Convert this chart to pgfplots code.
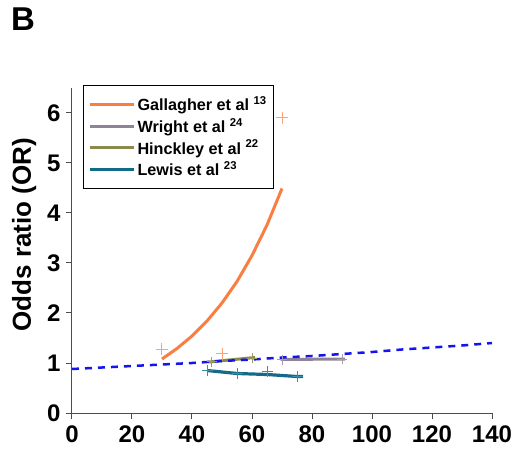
\documentclass[border=0pt]{standalone}
\usepackage{fontspec}
\setmainfont{Liberation Sans}
\usepackage{pgfplots}
\pgfplotsset{compat=1.18}
\definecolor{gal}{HTML}{F97E42}
\definecolor{galm}{HTML}{FBA27A}
\definecolor{wri}{HTML}{8F8497}
\definecolor{wrim}{HTML}{A79DAE}
\definecolor{hin}{HTML}{8A8A4E}
\definecolor{hinm}{HTML}{9A9A62}
\definecolor{lew}{HTML}{146A8A}
\definecolor{lewm}{HTML}{3A8FA8}
\definecolor{bdash}{HTML}{1414F0}
\begin{document}
\begin{tikzpicture}
\begin{axis}[
  scale only axis, width=420pt, height=325pt,
  xmin=0, xmax=140, ymin=0, ymax=6.5,
  axis x line*=bottom, axis y line*=left,
  axis line style={-, line width=1pt, color=black!70},
  xtick={0,20,...,140}, ytick={0,1,...,6},
  tick align=outside, major tick length=6pt,
  tick style={line width=1pt, color=black!70},
  /pgf/number format/assume math mode=true,
  tick label style={font=\fontsize{24}{24}\selectfont\bfseries},
  xticklabel style={yshift=-3pt},
  yticklabel style={xshift=-2pt},
  ylabel={Odds ratio (OR)},
  ylabel style={font=\fontsize{26}{26}\selectfont\bfseries, at={(axis description cs:-0.114,0.549)}, anchor=center},
  clip=false,
  legend style={at={(axis description cs:0.026,1.009)}, anchor=north west, draw=black, line width=0.8pt,
    font=\fontsize{16.2}{19}\selectfont\bfseries, inner xsep=5pt, inner ysep=9pt,
    row sep=2pt, cells={anchor=west}},
  legend image code/.code={\path (0pt,0pt) -- (44pt,0pt); \draw[#1] (8pt,0pt) -- (36pt,0pt);},
]
\addplot[gal, line width=3pt, mark=none] coordinates {(30,1.08) (35,1.29) (40,1.54) (45,1.84) (50,2.20) (55,2.63) (60,3.15) (65,3.76) (70,4.49)};
\addlegendentry{Gallagher et al \textsuperscript{13}}
\addplot[wri, line width=3pt, mark=none] coordinates {(69.5,1.07) (91,1.08)};
\addlegendentry{Wright et al \textsuperscript{24}}
\addplot[hin, line width=3pt, mark=none] coordinates {(45.5,1.02) (61,1.11)};
\addlegendentry{Hinckley et al \textsuperscript{22}}
\addplot[lew, line width=3.2pt, mark=none] coordinates {(45,0.85) (55,0.79) (65,0.77) (75,0.73) (77,0.73)};
\addlegendentry{Lewis et al \textsuperscript{23}}
% markers
\addplot[forget plot, only marks, mark=+, mark size=6pt, galm, mark options={line width=1pt}] coordinates {(30,1.28) (50,1.19) (70,5.9)};
\addplot[forget plot, only marks, mark=+, mark size=5pt, wrim, mark options={line width=1pt}] coordinates {(70,1.07) (90,1.08)};
\addplot[forget plot, only marks, mark=+, mark size=5pt, hinm, mark options={line width=1pt}] coordinates {(46.5,1.03) (60,1.10)};
\addplot[forget plot, only marks, mark=+, mark size=5.5pt, lewm, mark options={line width=1pt}] coordinates {(45,0.86) (55,0.80) (65,0.83) (75,0.73)};
% reference dashed line
\addplot[forget plot, bdash, line width=2.5pt, dash pattern=on 7pt off 6pt, mark=none] coordinates {(0,0.88) (10,0.91) (20,0.94) (30,0.97) (40,1.00) (50,1.04) (60,1.07) (70,1.11) (80,1.14) (90,1.18) (100,1.22) (110,1.27) (120,1.31) (130,1.35) (140,1.40)};
\end{axis}
\node[anchor=north west, inner sep=0pt, font=\fontsize{33}{33}\selectfont\bfseries] at (-61pt,405pt) {B};
\pgfresetboundingbox
\useasboundingbox (-72pt,-37pt) rectangle (445pt,413pt);
\end{tikzpicture}
\end{document}
